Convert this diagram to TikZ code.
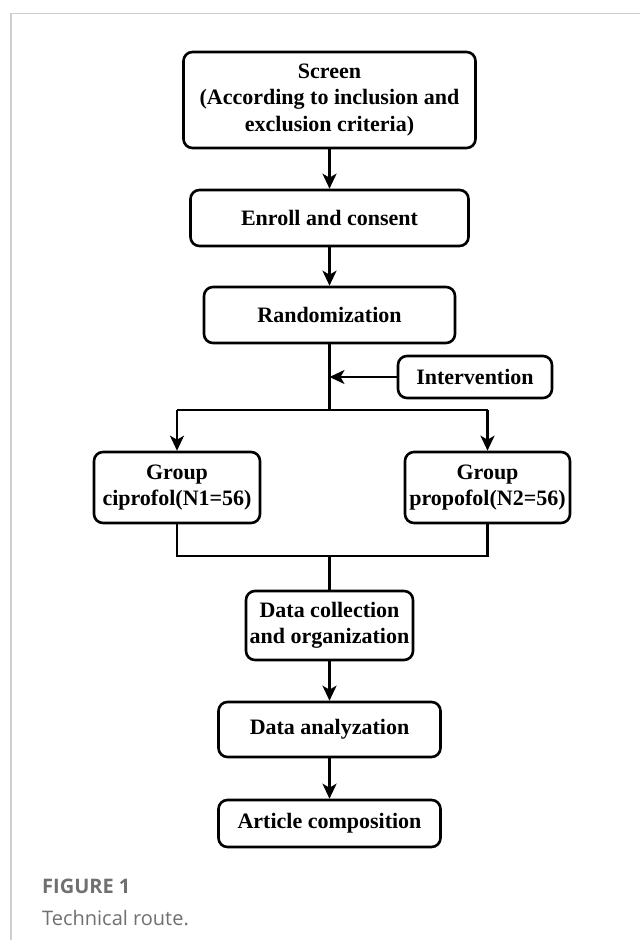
\documentclass[tikz,border=0pt]{standalone}
\usepackage{fontspec}
\setmainfont{Liberation Serif}
\newfontfamily\capfont{Open Sans}
\usetikzlibrary{arrows.meta}
\definecolor{capgray}{HTML}{707070}
\definecolor{framegray}{HTML}{CFCFCF}
\tikzset{
  stepbox/.style={draw, line width=2.6pt, rounded corners=9pt, inner sep=0pt, align=center,
    font=\fontsize{22}{26.5}\selectfont\bfseries},
  conn/.style={line width=2.4pt},
  arr/.style={conn, -{Stealth[length=15pt,width=14pt,inset=4pt]}},
}
\begin{document}
\begin{tikzpicture}[x=1pt,y=-1pt]
\useasboundingbox (0,0) rectangle (640,940);
\fill[white] (0,0) rectangle (640,940);
\draw[framegray, line width=1.2pt] (11,940) -- (11,13.5) -- (640,13.5);

\node[stepbox, minimum width=292pt, minimum height=96pt] (screen) at (329.5,100) {Screen\\(According to inclusion and\\exclusion criteria)};
\node[stepbox, minimum width=278pt, minimum height=56pt] (enroll) at (329.5,218) {Enroll and consent};
\node[stepbox, minimum width=251pt, minimum height=56pt] (rand) at (329.5,315) {Randomization};
\node[stepbox, minimum width=154pt, minimum height=42pt] (interv) at (475,377) {Intervention};
\node[stepbox, minimum width=166pt, minimum height=71pt] (g1) at (177,487.5) {Group\\ciprofol(N1=56)};
\node[stepbox, minimum width=165pt, minimum height=71pt] (g2) at (487.5,487.5) {Group\\propofol(N2=56)};
\node[stepbox, minimum width=167pt, minimum height=69pt] (collect) at (329.5,625.5) {Data collection\\and organization};
\node[stepbox, minimum width=222pt, minimum height=55pt] (analyze) at (329.5,729.5) {Data analyzation};
\node[stepbox, minimum width=222pt, minimum height=47pt] (article) at (329.5,823.5) {Article composition};

\coordinate (join) at (329.5,377);
\coordinate (split) at (329.5,410);
\coordinate (b1) at (177,410);
\coordinate (b2) at (487.5,410);
\coordinate (m1) at (177,556);
\coordinate (m2) at (487.5,556);
\coordinate (mc) at (329.5,556);

\draw[arr] (screen.south) -- (enroll.north);
\draw[arr] (enroll.south) -- (rand.north);
\draw[conn] (rand.south) -- (split);
\draw[arr] (interv.west) -- (join);
\draw[conn] (b1) -- (b2);
\draw[arr] (b1) -- (g1.north);
\draw[arr] (b2) -- (g2.north);
\draw[conn] (g1.south) -- (m1) -- (m2) -- (g2.south);
\draw[conn] (mc) -- (collect.north);
\draw[arr] (collect.south) -- (analyze.north);
\draw[arr] (analyze.south) -- (article.north);

\node[anchor=base west, inner sep=0pt, text=capgray, font=\capfont\fontsize{20}{22}\selectfont\bfseries] (figlabel) at (42,893) {FIGURE 1};
\node[anchor=base west, inner sep=0pt, text=capgray, font=\capfont\fontsize{20}{22}\selectfont] (figcap) at (42,925) {Technical route.};
\end{tikzpicture}
\end{document}
